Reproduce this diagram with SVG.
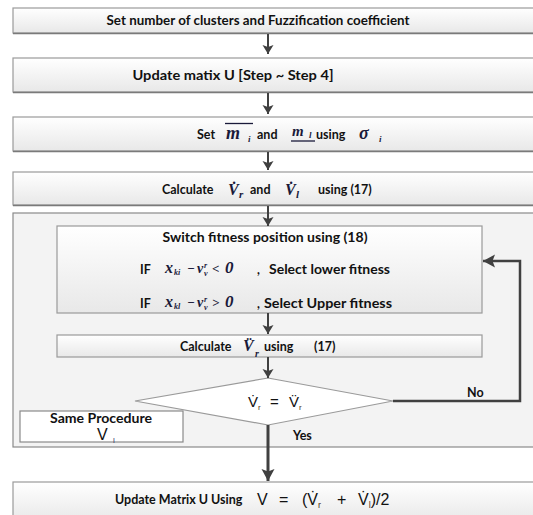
<svg xmlns="http://www.w3.org/2000/svg" width="533" height="515" viewBox="0 0 533 515">
<style>
.t{font-family:Lato,"Liberation Sans",sans-serif;font-weight:700;font-size:12.5px;fill:#111}
.m{font-family:"Liberation Serif",serif;font-style:italic;font-weight:700;fill:#1a1a3a}
.r{font-family:"Liberation Sans",sans-serif;font-weight:400;fill:#111}
.s{fill:#4a3320}
.box{fill:url(#g);stroke:#9a9a9a;stroke-width:1.2}
.shadow{fill:none;stroke:#7a7a7a;stroke-width:1.5}
.conn{stroke:#404040;fill:none}
</style>
<defs>
<linearGradient id="g" x1="0" y1="0" x2="0" y2="1">
<stop offset="0" stop-color="#ffffff"/>
<stop offset="1" stop-color="#e8e8e8"/>
</linearGradient>
<marker id="a" markerUnits="userSpaceOnUse" markerWidth="10" markerHeight="12" refX="9" refY="5.5" orient="auto">
<path d="M0,0 L9,5.5 L0,11 L2,5.5 z" fill="#404040"/>
</marker>
<marker id="b" markerUnits="userSpaceOnUse" markerWidth="14" markerHeight="14" refX="12" refY="6.5" orient="auto">
<path d="M0,0 L12,6.5 L0,13 L2.5,6.5 z" fill="#404040"/>
</marker>
</defs>
<rect width="533" height="515" fill="#ffffff"/>

<g id="loop">
<rect x="13" y="213" width="540" height="234" fill="#f3f3f3" stroke="#8a8a8a" stroke-width="1.2"/>
</g>

<g id="n1">
<rect class="box" x="13" y="8" width="540" height="25"/>
<line class="shadow" x1="13" y1="33.5" x2="533" y2="33.5"/>
<text class="t" x="258" y="24.5" text-anchor="middle" textLength="303" lengthAdjust="spacingAndGlyphs">Set number of clusters and Fuzzification coefficient</text>
</g>

<g id="n2">
<rect class="box" x="13" y="58" width="540" height="34"/>
<line class="shadow" x1="13" y1="92.5" x2="533" y2="92.5"/>
<text class="t" x="233" y="79.5" text-anchor="middle" textLength="201" lengthAdjust="spacingAndGlyphs">Update matix U [Step ~ Step 4]</text>
</g>

<g id="n3">
<rect class="box" x="13" y="117" width="540" height="34"/>
<line class="shadow" x1="13" y1="151.5" x2="533" y2="151.5"/>
<line x1="225" y1="123.5" x2="253" y2="123.5" stroke="#1a1a3a" stroke-width="1.3"/>
<line x1="291" y1="141" x2="315" y2="141" stroke="#1a1a3a" stroke-width="1.3"/>
<text x="197" y="138.5"><tspan class="t">Set</tspan><tspan class="m" x="226" y="139" font-size="18">m</tspan><tspan class="m" x="248" y="142" font-size="9">i</tspan><tspan class="t" x="257" y="138.5">and</tspan><tspan class="m" x="292" y="136" font-size="15">m</tspan><tspan class="m" x="309" y="138" font-size="9">l</tspan><tspan class="t" x="316" y="138.5">using</tspan><tspan class="m" x="359" y="139" font-size="18">σ</tspan><tspan class="m" x="379" y="142" font-size="9">i</tspan></text>
</g>

<g id="n4">
<rect class="box" x="13" y="172" width="540" height="33"/>
<line class="shadow" x1="13" y1="205.5" x2="533" y2="205.5"/>
<text x="162" y="193.5"><tspan class="t">Calculate</tspan><tspan class="m" x="228" y="195" font-size="16">V̇</tspan><tspan class="m" x="239" y="198" font-size="11">r</tspan><tspan class="t" x="250" y="193.5">and</tspan><tspan class="m" x="285" y="195" font-size="16">V̇</tspan><tspan class="m" x="296" y="198" font-size="11">l</tspan><tspan class="t" x="318" y="193.5">using (17)</tspan></text>
</g>

<g id="n5">
<rect class="box" x="57" y="226" width="425" height="87"/>
<text class="t" x="265" y="241.5" text-anchor="middle" textLength="205" lengthAdjust="spacingAndGlyphs">Switch fitness position using (18)</text>
<text x="140" y="273.5"><tspan class="t">IF</tspan><tspan class="m" x="165" y="273" font-size="16">x</tspan><tspan class="m" x="174" y="275" font-size="8">ki</tspan><tspan class="m" x="187" y="273" font-size="13">−</tspan><tspan class="m" x="197" y="273" font-size="14">v</tspan><tspan class="m" x="204" y="268" font-size="8">r</tspan><tspan class="m" x="204" y="276" font-size="8">v</tspan><tspan class="m" x="212" y="273" font-size="13">&lt;</tspan><tspan class="m" x="225" y="273" font-size="17">0</tspan><tspan class="t" x="257" y="273.5">,</tspan></text>
<text class="t" x="269" y="273.5" textLength="121" lengthAdjust="spacingAndGlyphs">Select lower fitness</text>
<text x="140" y="307.5"><tspan class="t">IF</tspan><tspan class="m" x="165" y="307" font-size="16">x</tspan><tspan class="m" x="174" y="309" font-size="8">kl</tspan><tspan class="m" x="187" y="307" font-size="13">−</tspan><tspan class="m" x="197" y="307" font-size="14">v</tspan><tspan class="m" x="204" y="302" font-size="8">r</tspan><tspan class="m" x="204" y="310" font-size="8">v</tspan><tspan class="m" x="212" y="307" font-size="13">&gt;</tspan><tspan class="m" x="225" y="307" font-size="17">0</tspan><tspan class="t" x="257" y="307.5">,</tspan></text>
<text class="t" x="264" y="307.5" textLength="128" lengthAdjust="spacingAndGlyphs">Select Upper fitness</text>
</g>

<g id="n6">
<rect class="box" x="57" y="335" width="425" height="22"/>
<text x="180" y="350.5"><tspan class="t">Calculate</tspan><tspan class="m" x="243" y="351" font-size="16">V̈</tspan><tspan class="m" x="255" y="357" font-size="10">r</tspan><tspan class="t" x="264" y="350.5">using</tspan><tspan class="t" x="314" y="350.5">(17)</tspan></text>
</g>

<g id="n7">
<polygon points="268,378 393,401 268,425 135,401" fill="#ffffff" stroke="#9a9a9a" stroke-width="1.2"/>
<text class="r" x="248" y="407" font-size="15">V̇<tspan class="s" font-size="8" dy="3">r</tspan><tspan dy="-3" x="270">=</tspan><tspan x="289">V̈</tspan><tspan class="s" font-size="8" dy="3">r</tspan></text>
</g>

<g id="n8">
<rect x="20" y="411" width="163" height="31" fill="#ffffff" stroke="#8a8a8a" stroke-width="1.2"/>
<text class="t" x="101" y="422.5" text-anchor="middle" font-size="14" textLength="102" lengthAdjust="spacingAndGlyphs">Same Procedure</text>
<text class="r" x="97" y="440" font-size="16">V<tspan x="113" dy="3" font-size="8" fill="#3a3a6a">l</tspan></text>
</g>

<g id="n9">
<rect class="box" x="13" y="482" width="540" height="40"/>
<text class="t" x="115" y="503.5">Update Matrix U Using</text>
<text class="r" x="257" y="504.5" font-size="16">V<tspan x="279">=</tspan><tspan x="302">(V̇</tspan><tspan class="s" font-size="9" dy="3">r</tspan><tspan x="337" dy="-3">+</tspan><tspan x="358">V̇</tspan><tspan class="s" font-size="9" dy="3">l</tspan><tspan dy="-3">)/2</tspan></text>
</g>

<g id="connectors">
<line class="conn" stroke-width="2" x1="268" y1="34" x2="268" y2="54" marker-end="url(#a)"/>
<line class="conn" stroke-width="2" x1="268" y1="93" x2="268" y2="114" marker-end="url(#a)"/>
<line class="conn" stroke-width="2" x1="268" y1="152" x2="268" y2="170" marker-end="url(#a)"/>
<line class="conn" stroke-width="2" x1="268" y1="206" x2="268" y2="226" marker-end="url(#a)"/>
<line class="conn" stroke-width="2" x1="268" y1="313" x2="268" y2="334" marker-end="url(#a)"/>
<line class="conn" stroke-width="2" x1="268" y1="357" x2="268" y2="378" marker-end="url(#a)"/>
<line class="conn" stroke-width="3" x1="268" y1="425" x2="268" y2="481" marker-end="url(#b)"/>
<polyline class="conn" stroke-width="2.5" points="393,401 520,401 520,261 483,261" marker-end="url(#b)"/>
<text class="t" x="467" y="397">No</text>
<text class="t" x="293" y="440">Yes</text>
</g>
</svg>
